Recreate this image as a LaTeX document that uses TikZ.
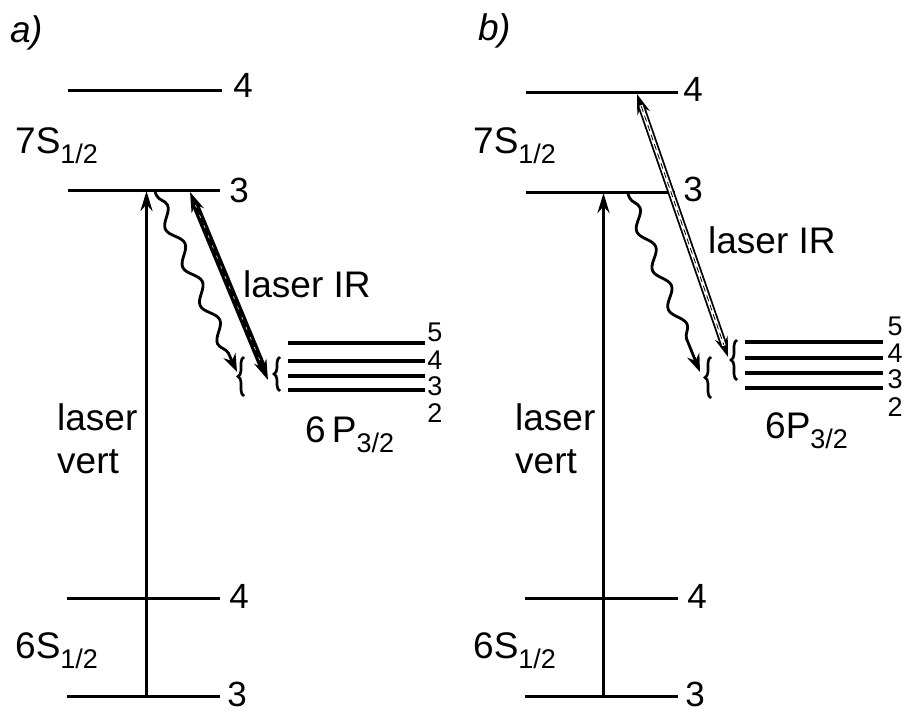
\documentclass[tikz,border=0pt]{standalone}
\usepackage{fontspec}
\setmainfont{Liberation Sans}
\usetikzlibrary{arrows.meta,decorations.pathmorphing,decorations.pathreplacing}
\tikzstyle{lvl}=[line width=3pt]
\tikzstyle{plvl}=[line width=4.4pt]
\tikzstyle{txt}=[inner sep=0pt,anchor=base west,font=\fontsize{37}{40}\selectfont]
\tikzstyle{num}=[inner sep=0pt,font=\fontsize{35}{40}\selectfont]
\tikzstyle{fnum}=[inner sep=0pt,font=\fontsize{27}{30}\selectfont]
\tikzstyle{pumpbeam}=[line width=3.1pt,-{Stealth[length=20pt,width=12pt]}]
\tikzstyle{decay}=[-{Stealth[length=18pt,width=13pt]},line width=2.8pt,decorate,
  decoration={snake,amplitude=6pt,segment length=42pt,pre length=4pt,post length=16pt}]
\tikzstyle{irbeam}=[{Stealth[length=20pt,width=13pt]}-{Stealth[length=20pt,width=13pt]},line width=7pt]
\tikzstyle{hf}=[line width=2.6pt,decorate,decoration={brace,amplitude=6pt}]
\newcommand{\lowidx}[1]{\raisebox{-10pt}{\fontsize{27}{30}\selectfont #1}}

\begin{document}
\begin{tikzpicture}[x=1pt,y=-1pt]
\useasboundingbox (0,0) rectangle (905,712);
% a)
\node[txt] (atitle) at (10,42) {\textit{a)}};
\coordinate (a74l) at (68,90);\coordinate (a74r) at (222,90);
\coordinate (a73l) at (68,190);\coordinate (a73r) at (220,190);
\coordinate (a64l) at (67,598);\coordinate (a64r) at (220,598);
\coordinate (a63l) at (67,696);\coordinate (a63r) at (220,696);
\draw[lvl](a74l)--(a74r);\draw[lvl](a73l)--(a73r);\draw[lvl](a64l)--(a64r);\draw[lvl](a63l)--(a63r);
\node[num] (a74) at (243,85) {4};
\node[num] (a73) at (239,190) {3};
\node[num] (a64) at (239,596) {4};
\node[num] (a63) at (237,694) {3};
\node[txt] (a7s) at (15,153) {7S\lowidx{1/2}};
\node[txt] (a6s) at (15,658) {6S\lowidx{1/2}};
\coordinate (ap5l) at (288,343);\coordinate (ap5r) at (425,343);
\coordinate (ap4l) at (288,361);\coordinate (ap4r) at (425,361);
\coordinate (ap3l) at (288,376);\coordinate (ap3r) at (425,376);
\coordinate (ap2l) at (288,390);\coordinate (ap2r) at (425,390);
\draw[plvl](ap5l)--(ap5r);\draw[plvl](ap4l)--(ap4r);\draw[plvl](ap3l)--(ap3r);\draw[plvl](ap2l)--(ap2r);
\node[fnum] (ap5) at (435,332) {5};
\node[fnum] (ap4) at (435,360) {4};
\node[fnum] (ap3) at (435,386) {3};
\node[fnum] (ap2) at (435,413) {2};
\node[txt] (a6p) at (305,442) {6\,P\lowidx{3/2}};
\coordinate (avb) at (146.5,696);\coordinate (avt) at (146.5,191);
\draw[pumpbeam](avb)--(avt);
\node[txt] (avert1) at (57,430) {laser};
\node[txt] (avert2) at (57,473) {vert};
\coordinate (aws) at (155,192);\coordinate (awe) at (237,372);
\draw[decay](aws)--(awe);
\coordinate (ais) at (190,192);\coordinate (aie) at (268,380);
\draw[irbeam](ais)--(aie);
\draw[white,line width=0.5pt,dash pattern=on 3pt off 8pt,shorten <=14pt,shorten >=14pt](ais)--(aie);
\node[txt] (air) at (243,297) {laser IR};
\draw[hf](244,396)--(244,357);
\draw[hf](280,391)--(280,357);
% b)
\node[txt] (btitle) at (478,40) {\textit{b)}};
\coordinate (b74l) at (526,92);\coordinate (b74r) at (678,92);
\coordinate (b73l) at (526,192);\coordinate (b73r) at (675,192);
\coordinate (b64l) at (525,598);\coordinate (b64r) at (678,598);
\coordinate (b63l) at (525,696);\coordinate (b63r) at (678,696);
\draw[lvl](b74l)--(b74r);\draw[lvl](b73l)--(b73r);\draw[lvl](b64l)--(b64r);\draw[lvl](b63l)--(b63r);
\node[num] (b74) at (693,89) {4};
\node[num] (b73) at (693,189) {3};
\node[num] (b64) at (697,596) {4};
\node[num] (b63) at (695,694) {3};
\node[txt] (b7s) at (473,153) {7S\lowidx{1/2}};
\node[txt] (b6s) at (473,658) {6S\lowidx{1/2}};
\coordinate (bp5l) at (745,342);\coordinate (bp5r) at (883,342);
\coordinate (bp4l) at (745,358);\coordinate (bp4r) at (883,358);
\coordinate (bp3l) at (745,373);\coordinate (bp3r) at (883,373);
\coordinate (bp2l) at (745,388);\coordinate (bp2r) at (883,388);
\draw[plvl](bp5l)--(bp5r);\draw[plvl](bp4l)--(bp4r);\draw[plvl](bp3l)--(bp3r);\draw[plvl](bp2l)--(bp2r);
\node[fnum] (bp5) at (895,326) {5};
\node[fnum] (bp4) at (895,353) {4};
\node[fnum] (bp3) at (895,379) {3};
\node[fnum] (bp2) at (895,407) {2};
\node[txt] (b6p) at (765,438) {6P\lowidx{3/2}};
\coordinate (bvb) at (603.5,696);\coordinate (bvt) at (603.5,193);
\draw[pumpbeam](bvb)--(bvt);
\node[txt] (bvert1) at (515,430) {laser};
\node[txt] (bvert2) at (515,473) {vert};
\coordinate (bws) at (628,194);\coordinate (bwe) at (700,372);
\draw[decay](bws)--(bwe);
\coordinate (bis) at (637,94);\coordinate (bie) at (728,357);
\draw[irbeam](bis)--(bie);
\draw[white,line width=3.4pt,shorten <=12pt,shorten >=12pt](bis)--(bie);
\draw[line width=0.8pt,dash pattern=on 6pt off 4pt,shorten <=13pt,shorten >=13pt](bis)--(bie);
\node[txt] (bir) at (708,253) {laser IR};
\draw[hf](711,398)--(711,357);
\draw[hf](737,380)--(737,340);
\end{tikzpicture}
\end{document}
